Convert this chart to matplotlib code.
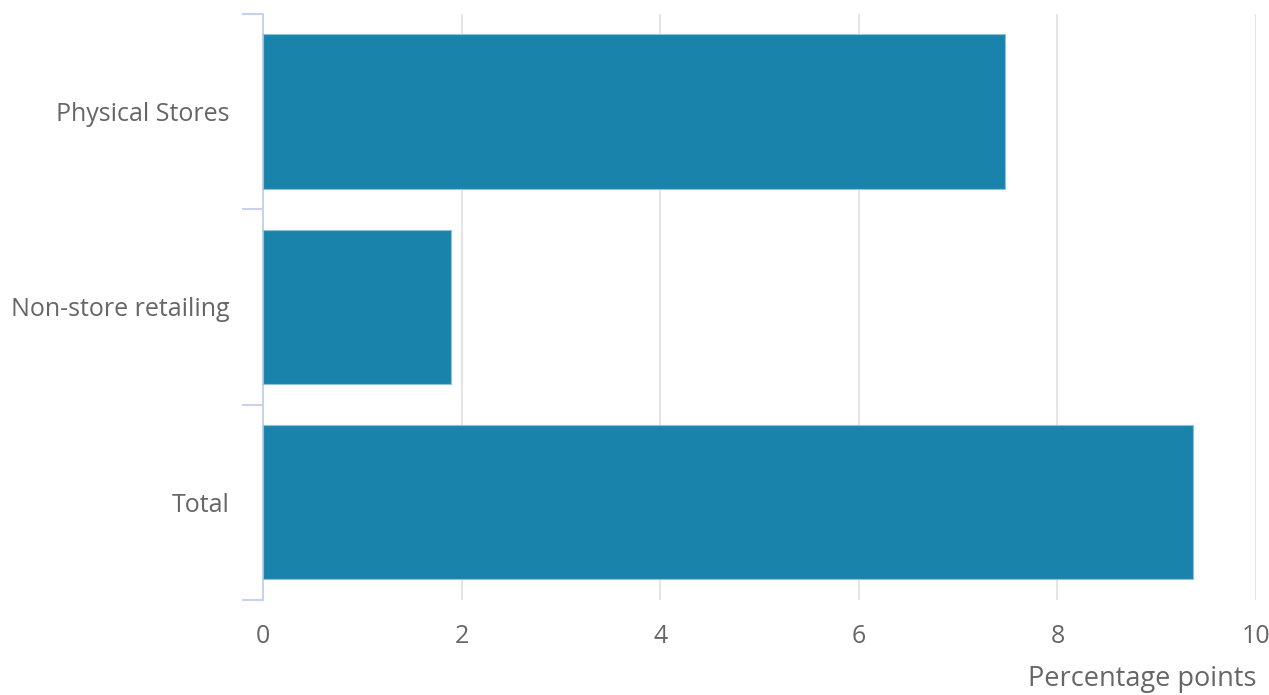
import matplotlib
matplotlib.use('Agg')
import matplotlib.pyplot as plt
import numpy as np

plt.rcParams['font.family'] = ['Open Sans', 'DejaVu Sans']

categories = ["Physical Stores", "Non-store retailing", "Total"]
values = [7.47, 1.89, 9.36]
xticks = [0, 2, 4, 6, 8, 10]

BAR = '#1a83ab'
TXT = '#666666'
AXC = '#c9d2e8'

fig = plt.figure(figsize=(12.69, 6.95), dpi=100)
ax = fig.add_axes([0.2073, 0.1367, 0.7825, 0.8432])

y = np.arange(len(categories))
ax.barh(y, values, height=0.79, color=BAR, edgecolor='#8cc3da', linewidth=0.8, zorder=3)

ax.set_xlim(0, 10)
ax.set_ylim(len(categories) - 0.5, -0.5)
ax.set_xticks(xticks)
ax.set_xticklabels([str(t) for t in xticks])
ax.set_yticks(y)
ax.set_yticklabels(categories)
ax.set_yticks(np.arange(len(categories) + 1) - 0.5, minor=True)

ax.tick_params(axis='x', length=0, pad=17, labelsize=18, labelcolor=TXT)
ax.tick_params(axis='y', which='major', length=0, pad=24, labelsize=18, labelcolor=TXT)
ax.tick_params(axis='y', which='minor', length=15, width=1.5, color=AXC)

ax.grid(axis='x', color='#e3e3e3', linewidth=1.3, zorder=0)
for s in ['top', 'right', 'bottom']:
    ax.spines[s].set_visible(False)
ax.spines['left'].set_color(AXC)
ax.spines['left'].set_linewidth(1.5)

ax.set_xlabel("Percentage points", fontsize=19.5, color=TXT, loc='right', labelpad=12)

fig.savefig("out.png", dpi=100)
